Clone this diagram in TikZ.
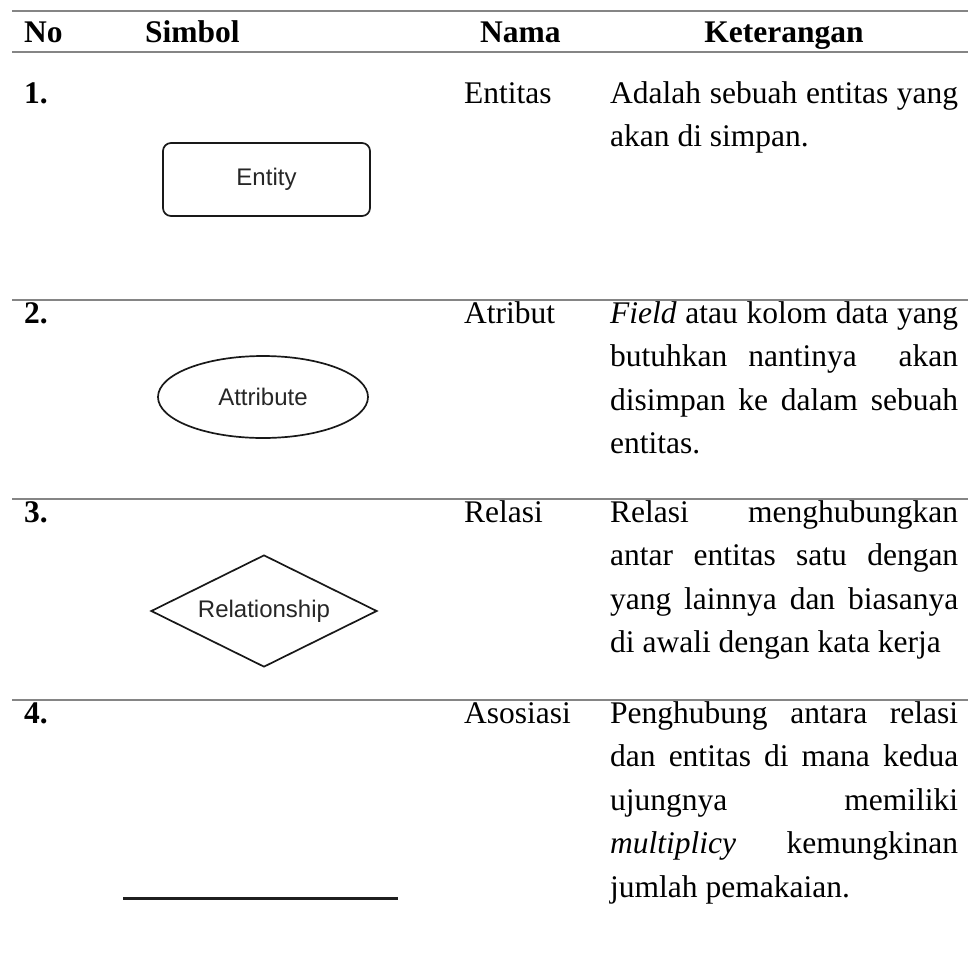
\documentclass[tikz,border=0pt]{standalone}
\usepackage{fontspec}
\setmainfont{Liberation Serif}
\newfontfamily\symfont{Liberation Sans}
\usetikzlibrary{shapes.geometric}
\hbadness=10000
\hfuzz=30pt
% one justified line of the description column, and one natural (last) line
\newcommand\jl[1]{\hbox to 348pt{#1}}
\newcommand\nl[1]{\hbox{#1}}
\newcommand\para[1]{\vtop{\baselineskip=43.6pt #1}}
\begin{document}
\begin{tikzpicture}[x=1pt,y=-1pt,
  txt/.style={anchor=base west, inner sep=0pt, font=\fontsize{31.5}{43.6}\selectfont},
  hd/.style={txt, font=\fontsize{31.5}{43.6}\selectfont\bfseries},
  rule/.style={draw=black!48, line width=2.6pt},
  symshape/.style={draw=black!90, line width=1.7pt, inner sep=0pt,
    text=black!85, font=\fontsize{24}{28}\symfont},
]
\useasboundingbox (0,0) rectangle (968,978);

% horizontal rules of the table
\draw[rule] (12,11) -- (968,11);
\draw[rule] (12,52) -- (968,52);
\draw[rule] (12,300) -- (968,300);
\draw[rule] (12,499) -- (968,499);
\draw[rule] (12,700) -- (968,700);

% header
\node[hd] (hno)  at (24,42)  {No};
\node[hd] (hsym) at (145,42) {Simbol};
\node[hd] (hnam) at (480,42) {Nama};
\node[hd, anchor=base] (hket) at (784,42) {Keterangan};

% row 1
\node[hd]  (n1) at (24,103)  {1.};
\node[txt] (m1) at (464,103) {Entitas};
\node[txt] (k1) at (610,103) {\para{\jl{Adalah sebuah entitas yang}\nl{akan di simpan.}}};
\node[symshape, rectangle, rounded corners=8pt, minimum width=207pt,
      minimum height=73pt] (entity) at (266.5,179.5) {Entity};

% row 2
\node[hd]  (n2) at (24,323)  {2.};
\node[txt] (m2) at (464,323) {Atribut};
\node[txt] (k2) at (610,323) {\para{\jl{\textit{Field} atau kolom data yang}%
  \jl{butuhkan nantinya\ \ akan}\jl{disimpan ke dalam sebuah}\nl{entitas.}}};
\node[symshape, ellipse, minimum width=210pt, minimum height=82pt]
      (attr) at (263,397) {Attribute};

% row 3
\node[hd]  (n3) at (24,522)  {3.};
\node[txt] (m3) at (464,522) {Relasi};
\node[txt] (k3) at (610,522) {\para{\jl{Relasi menghubungkan}%
  \jl{antar entitas satu dengan}\jl{yang lainnya dan biasanya}%
  \nl{di awali dengan kata kerja}}};
\node[symshape, diamond, aspect=2, minimum width=226pt, minimum height=112pt]
      (rel) at (264,611) {Relationship};

% row 4
\node[hd]  (n4) at (24,723)  {4.};
\node[txt] (m4) at (464,723) {Asosiasi};
\node[txt] (k4) at (610,723) {\para{\jl{Penghubung antara relasi}%
  \jl{dan entitas di mana kedua}\jl{ujungnya memiliki}%
  \jl{\textit{multiplicy} kemungkinan}\nl{jumlah pemakaian.}}};
\coordinate (assocL) at (123,898);
\coordinate (assocR) at (398,898);
\draw[draw=black!88, line width=3pt] (assocL) -- (assocR);
\end{tikzpicture}
\end{document}
